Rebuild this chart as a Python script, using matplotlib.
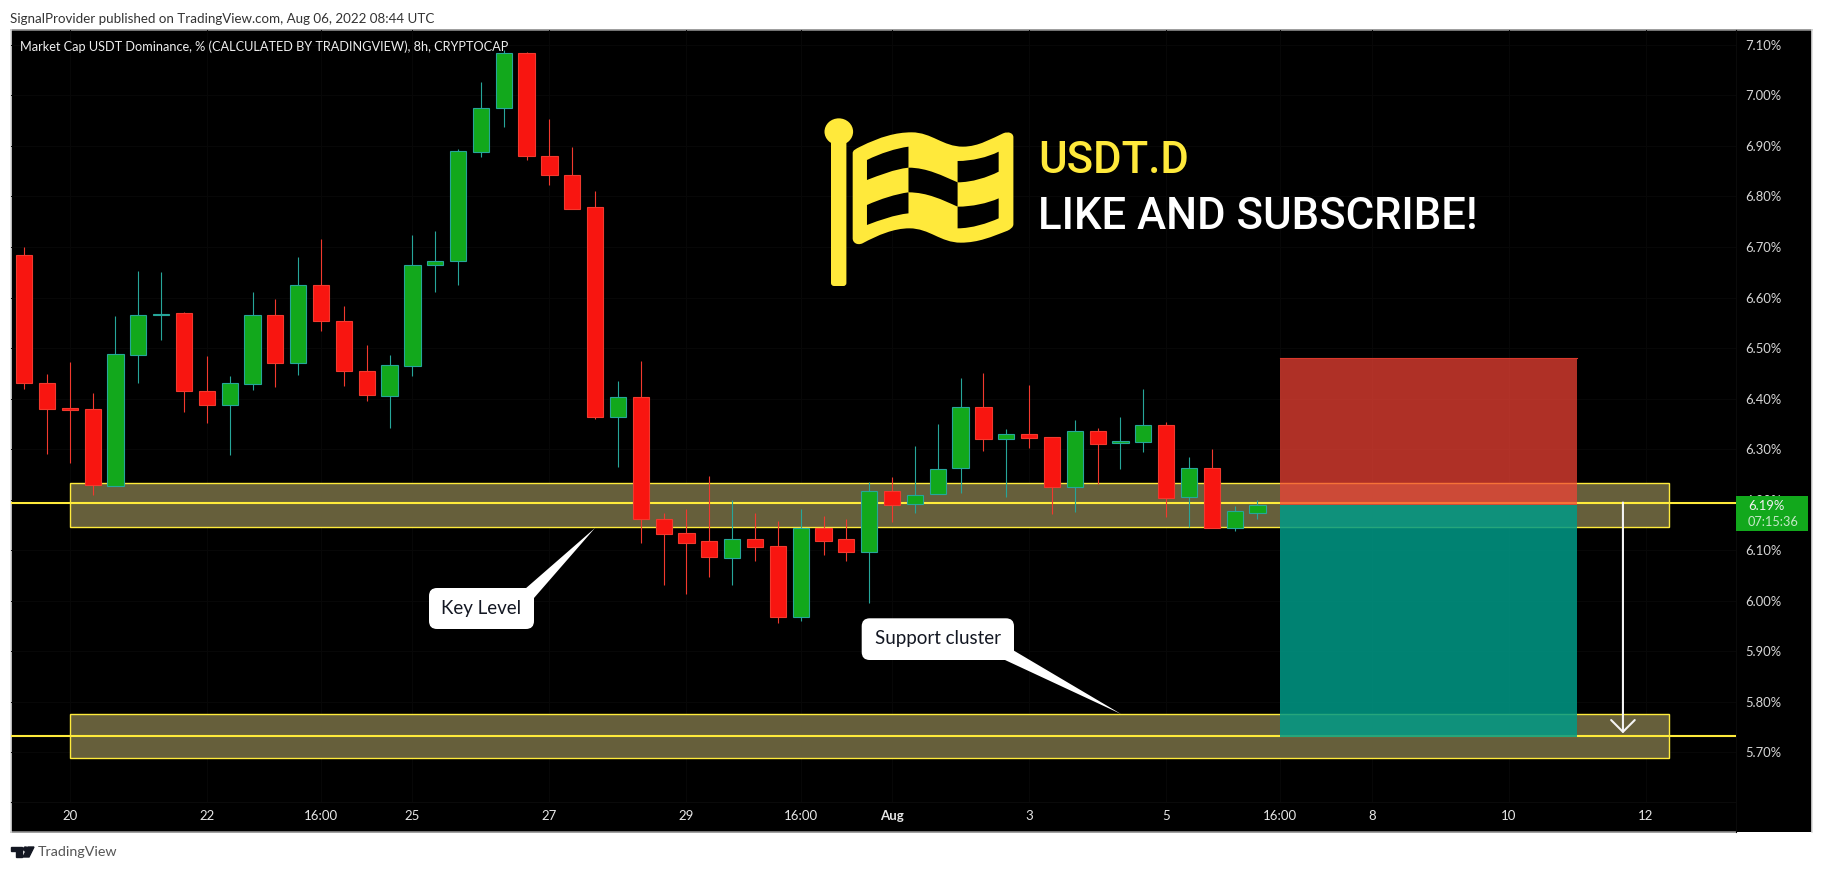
import matplotlib
matplotlib.use('Agg')
import matplotlib.pyplot as plt
from matplotlib.patches import Rectangle, FancyBboxPatch, Ellipse, PathPatch, Polygon
from matplotlib.path import Path
from matplotlib.transforms import Affine2D

plt.rcParams['font.family'] = ['Lato', 'DejaVu Sans']

# ==========================================
# 1. DATA
# ==========================================
opens = [6.684, 6.430, 6.381, 6.379, 6.226, 6.487, 6.565, 6.569, 6.414, 6.388, 6.429, 6.565,
         6.471, 6.624, 6.553, 6.455, 6.404, 6.465, 6.664, 6.672, 6.889, 6.975, 7.084, 6.880,
         6.843, 6.779, 6.364, 6.402, 6.161, 6.133, 6.117, 6.085, 6.121, 6.107, 5.967, 6.143,
         6.121, 6.097, 6.216, 6.191, 6.210, 6.262, 6.383, 6.319, 6.329, 6.323, 6.224, 6.335,
         6.311, 6.314, 6.347, 6.204, 6.262, 6.144, 6.174]
highs = [6.700, 6.449, 6.472, 6.410, 6.563, 6.652, 6.650, 6.571, 6.484, 6.445, 6.611, 6.597,
         6.680, 6.716, 6.583, 6.506, 6.486, 6.724, 6.732, 6.894, 7.027, 7.090, 7.086, 6.953,
         6.898, 6.811, 6.434, 6.474, 6.173, 6.181, 6.247, 6.199, 6.173, 6.157, 6.181, 6.167,
         6.161, 6.235, 6.245, 6.306, 6.350, 6.441, 6.450, 6.340, 6.427, 6.323, 6.357, 6.341,
         6.363, 6.418, 6.353, 6.284, 6.300, 6.187, 6.200]
lows = [6.419, 6.291, 6.273, 6.208, 6.226, 6.431, 6.516, 6.374, 6.351, 6.289, 6.417, 6.423,
        6.447, 6.534, 6.425, 6.396, 6.342, 6.445, 6.611, 6.625, 6.879, 6.938, 6.873, 6.823,
        6.776, 6.360, 6.265, 6.114, 6.031, 6.013, 6.047, 6.031, 6.079, 5.956, 5.960, 6.091,
        6.079, 5.996, 6.156, 6.174, 6.210, 6.213, 6.297, 6.204, 6.301, 6.172, 6.176, 6.231,
        6.261, 6.295, 6.166, 6.146, 6.144, 6.138, 6.162]
closes = [6.430, 6.379, 6.377, 6.228, 6.488, 6.565, 6.567, 6.414, 6.388, 6.430, 6.565, 6.471,
          6.624, 6.553, 6.455, 6.406, 6.466, 6.664, 6.672, 6.890, 6.975, 7.084, 6.880, 6.843,
          6.776, 6.364, 6.402, 6.162, 6.132, 6.114, 6.087, 6.121, 6.105, 5.967, 6.143, 6.118,
          6.097, 6.216, 6.189, 6.208, 6.260, 6.383, 6.319, 6.329, 6.322, 6.224, 6.335, 6.309,
          6.315, 6.347, 6.202, 6.262, 6.144, 6.177, 6.189]

price_ticks = [5.7, 5.8, 5.9, 6.0, 6.1, 6.2, 6.3, 6.4, 6.5, 6.6, 6.7, 6.8, 6.9, 7.0, 7.1]
time_ticks = [2, 8, 13, 17, 23, 29, 34, 38, 44, 50, 55, 59, 65, 71]
time_labels = ['20', '22', '16:00', '25', '27', '29', '16:00', 'Aug', '3', '5', '16:00', '8', '10', '12']

last_price = 6.194
support_level = 5.732
key_zone = (6.145, 6.232)
support_zone = (5.688, 5.775)
zone_span = (2, 72)
stop_price = 6.48
entry_price = 6.189
target_price = 5.729
position_span = (55, 68)
arrow_x = 70

RED = '#f81510'
RED_EDGE = '#f2392e'
GREEN = '#12a81c'
GREEN_EDGE = '#26a69a'
YELLOW = '#ffeb3b'
ZONE = '#665f3b'

# ==========================================
# 2. FIGURE + PAGE BACKGROUND
# ==========================================
fig = plt.figure(figsize=(18.23, 8.72), dpi=100, facecolor='white')

bg = fig.add_axes([0, 0, 1, 1], zorder=0)
bg.set_xlim(0, 1823)
bg.set_ylim(872, 0)
bg.axis('off')
bg.add_patch(Rectangle((11, 30), 1801, 802, facecolor='black', edgecolor='none'))
bg.plot([11, 1812], [30, 30], color='#8c8c8c', lw=1.2)
bg.plot([11, 1736], [832, 832], color='#8c8c8c', lw=1.2)
bg.plot([11, 11], [30, 832], color='#dddddd', lw=1.2)
bg.plot([1812, 1812], [30, 832], color='#dddddd', lw=1.2)
bg.plot([1736, 1736], [30, 832], color='#0a0a0a', lw=0.8)
bg.plot([11, 1736], [802, 802], color='#0a0a0a', lw=0.8)

bg.text(10, 19, 'SignalProvider published on TradingView.com, Aug 06, 2022 08:44 UTC',
        fontsize=9.65, color='#333333', va='center', ha='left')
bg.text(38, 852, 'TradingView', fontsize=10.3, color='#555555', va='center', ha='left')
# little TV logo
bg.add_patch(Polygon([(11, 847), (22, 847), (22, 857), (16, 857), (16, 851), (11, 851)], color='#131722'))
bg.add_patch(Ellipse((25.5, 849), 4, 4, color='#131722'))
bg.add_patch(Polygon([(28, 847), (34, 847), (29, 857), (23, 857)], color='#131722'))

# ==========================================
# 3. MAIN CHART
# ==========================================
ax = fig.add_axes([11 / 1823, 70 / 872, 1725 / 1823, 772 / 872], zorder=2)
ax.patch.set_alpha(0)
ax.set_xlim(-0.574, 74.95)
ax.set_ylim(5.601, 7.1297)
for s in ax.spines.values():
    s.set_visible(False)

ax.yaxis.tick_right()
ax.set_yticks(price_ticks)
ax.set_yticklabels([f'{p:.2f}%' for p in price_ticks], fontsize=9.4, color='#d6d6d6')
ax.set_xticks(time_ticks)
ax.set_xticklabels(time_labels, fontsize=9.5, color='#e6e6e6')
ax.tick_params(axis='y', length=0, pad=6.5)
ax.tick_params(axis='x', length=0, pad=6)
for lbl in ax.get_xticklabels():
    if lbl.get_text() == 'Aug':
        lbl.set_fontweight('bold')
ax.grid(True, color='#080808', lw=0.7)
ax.set_axisbelow(True)

# zones and levels
for low, high in [key_zone, support_zone]:
    ax.add_patch(Rectangle((zone_span[0], low), zone_span[1] - zone_span[0], high - low,
                           facecolor=ZONE, edgecolor=YELLOW, lw=1.0, zorder=2))
ax.axhline(last_price, color=YELLOW, lw=1.5, zorder=3)
ax.axhline(support_level, color=YELLOW, lw=1.5, zorder=3)

# short position box
px0, px1 = position_span
ax.add_patch(Rectangle((px0, entry_price), px1 - px0, stop_price - entry_price,
                       facecolor='#f44336', edgecolor='none', alpha=0.72, zorder=4))
ax.add_patch(Rectangle((px0, target_price), px1 - px0, entry_price - target_price,
                       facecolor='#009a87', edgecolor='none', alpha=0.85, zorder=4))
ax.plot([px0, px1], [stop_price, stop_price], color='#d9382c', lw=0.8, zorder=4)

# arrow down to target
ax.annotate('', xy=(arrow_x, support_level + 0.005), xytext=(arrow_x, last_price),
            arrowprops=dict(arrowstyle='->,head_length=0.85,head_width=0.85', color='#f4f4f4',
                            lw=1.5, shrinkA=0, shrinkB=0, mutation_scale=10), zorder=5)

# candles
for i in range(len(opens)):
    up = closes[i] >= opens[i]
    edge = GREEN_EDGE if up else RED_EDGE
    fill = GREEN if up else RED
    ax.vlines(i, lows[i], highs[i], color=edge, lw=0.8, zorder=6)
    ax.bar(i, abs(closes[i] - opens[i]), bottom=min(opens[i], closes[i]), width=0.71,
           facecolor=fill, edgecolor=edge, lw=0.8, zorder=7)

# ==========================================
# 4. OVERLAY: LOGO, CALLOUTS, PRICE TAG
# ==========================================
ov = fig.add_axes([0, 0, 1, 1], zorder=5)
ov.set_xlim(0, 1823)
ov.set_ylim(872, 0)
ov.axis('off')
ov.patch.set_alpha(0)

ov.text(20, 47, 'Market Cap USDT Dominance, % (CALCULATED BY TRADINGVIEW), 8h, CRYPTOCAP',
        fontsize=9.2, color='#eeeeee', va='center', ha='left')

M, L, C, Z = Path.MOVETO, Path.LINETO, Path.CURVE4, Path.CLOSEPOLY
flag_tf = Affine2D().scale(1 / 2.24, 1 / 3).translate(800, 100) + ov.transData


def bez_shape(start, segs):
    verts = [start]
    codes = [M]
    for seg in segs:
        if len(seg) == 1:
            verts += seg
            codes += [L]
        else:
            verts += seg
            codes += [C, C, C]
    verts.append(start)
    codes.append(Z)
    return Path(verts, codes)


flag = bez_shape((118, 160), [
    [(118, 150), (125, 147), (135, 140)],
    [(180, 110), (215, 97), (250, 97)],
    [(295, 97), (320, 140), (365, 140)],
    [(400, 140), (430, 115), (455, 100)],
    [(468, 93), (478, 100), (478, 112)],
    [(478, 372)],
    [(478, 382), (472, 387), (465, 392)],
    [(430, 410), (400, 428), (360, 428)],
    [(315, 428), (290, 385), (245, 385)],
    [(210, 385), (175, 405), (140, 430)],
    [(128, 437), (118, 428), (118, 415)],
])
holes = [
    bez_shape((150, 180), [[(180, 160), (215, 145), (243, 140)], [(243, 203)], [(210, 208), (180, 225), (150, 240)]]),
    bez_shape((243, 203), [[(285, 203), (320, 228), (353, 247)], [(353, 320)], [(320, 300), (285, 277), (243, 277)]]),
    bez_shape((353, 183), [[(385, 183), (420, 172), (445, 155)], [(445, 215)], [(420, 232), (385, 247), (353, 247)]]),
    bez_shape((150, 315), [[(180, 297), (215, 282), (243, 277)], [(243, 340)], [(210, 345), (180, 360), (150, 375)]]),
    bez_shape((353, 320), [[(385, 320), (420, 310), (445, 295)], [(445, 355)], [(420, 370), (385, 385), (353, 385)]]),
]
ov.add_patch(PathPatch(flag, facecolor='#ffe93b', edgecolor='none', transform=flag_tf))
for h in holes:
    ov.add_patch(PathPatch(h, facecolor='black', edgecolor='none', transform=flag_tf))
ov.add_patch(FancyBboxPatch((833, 140), 11.4, 144, boxstyle='round,pad=2,rounding_size=3',
                            facecolor='#ffe93b', edgecolor='none'))
ov.add_patch(Ellipse((838.8, 131.7), 28.6, 26.7, facecolor='#ffe93b', edgecolor='none'))

ov.text(1038, 173, 'USDT.D', fontsize=31.5, fontweight='medium', family='Roboto', color='#ffe93b', va='baseline', ha='left')
ov.text(1038, 229, 'LIKE AND SUBSCRIBE!', fontsize=31.5, fontweight='medium', family='Roboto', color='white', va='baseline', ha='left')

# callouts
ov.add_patch(Polygon([(525, 589), (595, 528), (534, 598)], facecolor='white', edgecolor='none'))
ov.add_patch(FancyBboxPatch((437, 596), 89, 25, boxstyle='round,pad=8,rounding_size=8',
                            facecolor='white', edgecolor='none'))
ov.text(481.5, 608, 'Key Level', fontsize=13.5, color='#131722', va='center', ha='center')

ov.add_patch(Polygon([(1014, 650.7), (1121, 714), (1005, 660)], facecolor='white', edgecolor='none'))
ov.add_patch(FancyBboxPatch((869.7, 626.3), 136.3, 25.7, boxstyle='round,pad=8,rounding_size=8',
                            facecolor='white', edgecolor='none'))
ov.text(938, 638, 'Support cluster', fontsize=13.5, color='#131722', va='center', ha='center')

# last price tag
ov.add_patch(Rectangle((1736, 496), 72, 35, facecolor=GREEN, edgecolor='none'))
ov.text(1748, 506, f'{last_price:.2f}%', fontsize=9.4, color='#f2f2f2', va='center', ha='left')
ov.text(1748, 522, '07:15:36', fontsize=9.2, color='#c6e8c8', va='center', ha='left')

plt.savefig('out.png', dpi=100, facecolor='white')
